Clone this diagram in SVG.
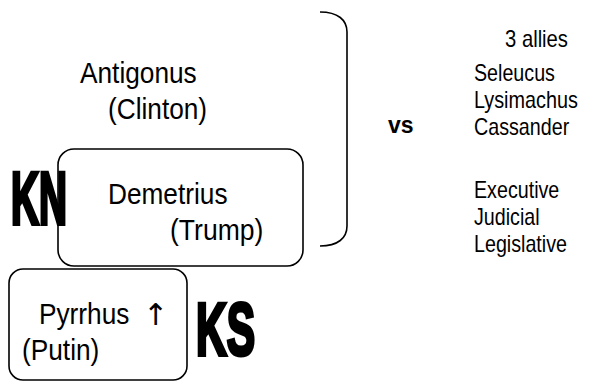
<svg xmlns="http://www.w3.org/2000/svg" width="616" height="383" viewBox="0 0 616 383">
  <style>
    .t { font-family: "Liberation Sans", Arial, sans-serif; fill: #000; }
    .big { font-size: 30px; }
    .side { font-size: 24px; }
    .box { fill: #fff; stroke: #000; stroke-width: 1.6; }
    .heavy { font-family: "Liberation Sans", Arial, sans-serif; font-weight: bold; font-size: 74px; fill: #000; stroke: #000; stroke-width: 4; stroke-linejoin: miter; }
    .line { fill: none; stroke: #000; stroke-width: 1.6; }
    .arrow { font-family: "DejaVu Sans", sans-serif; font-size: 30px; fill: #000; }
  </style>
  <rect width="616" height="383" fill="#fff"/>

  <!-- leader with his allies (condensed text via textLength) -->
  <g id="antigonus">
    <text class="t big" x="80" y="83" textLength="116.7" lengthAdjust="spacingAndGlyphs">Antigonus</text>
    <text class="t big" x="108" y="119" textLength="99.1" lengthAdjust="spacingAndGlyphs">(Clinton)</text>
  </g>

  <g id="demetrius">
    <rect class="box" x="58" y="149" width="245" height="117" rx="16"/>
    <text class="t big" x="108" y="204" textLength="119.5" lengthAdjust="spacingAndGlyphs">Demetrius</text>
    <text class="t big" x="170" y="240" textLength="93.3" lengthAdjust="spacingAndGlyphs">(Trump)</text>
  </g>

  <g id="kn">
    <text class="heavy" x="11" y="224" textLength="56" lengthAdjust="spacingAndGlyphs">KN</text>
  </g>

  <g id="pyrrhus">
    <rect class="box" x="9" y="269" width="178" height="111" rx="14"/>
    <text class="t big" x="39" y="324" textLength="90.4" lengthAdjust="spacingAndGlyphs">Pyrrhus</text>
    <text class="arrow" x="143" y="325">↑</text>
    <text class="t big" x="22" y="360" textLength="77.3" lengthAdjust="spacingAndGlyphs">(Putin)</text>
  </g>

  <g id="ks">
    <text class="heavy" x="196" y="355" textLength="59" lengthAdjust="spacingAndGlyphs">KS</text>
  </g>

  <!-- brace grouping the left side -->
  <g id="connectors">
    <path class="line" d="M320,12 C338,12 347,20 347,32 V226 C347,238 338,246 320,246"/>
  </g>

  <g id="vs">
    <text class="t" x="388" y="133" style="font-weight: bold; font-size: 23px;">vs</text>
  </g>

  <g id="allies">
    <text class="t side" x="505" y="47" textLength="63" lengthAdjust="spacingAndGlyphs">3 allies</text>
    <text class="t side" x="474" y="81" textLength="80.9" lengthAdjust="spacingAndGlyphs">Seleucus</text>
    <text class="t side" x="474" y="108" textLength="103.9" lengthAdjust="spacingAndGlyphs">Lysimachus</text>
    <text class="t side" x="474" y="135" textLength="95.2" lengthAdjust="spacingAndGlyphs">Cassander</text>
  </g>

  <g id="branches">
    <text class="t side" x="474" y="198" textLength="85.3" lengthAdjust="spacingAndGlyphs">Executive</text>
    <text class="t side" x="474" y="225" textLength="65.6" lengthAdjust="spacingAndGlyphs">Judicial</text>
    <text class="t side" x="474" y="252" textLength="93" lengthAdjust="spacingAndGlyphs">Legislative</text>
  </g>
</svg>
